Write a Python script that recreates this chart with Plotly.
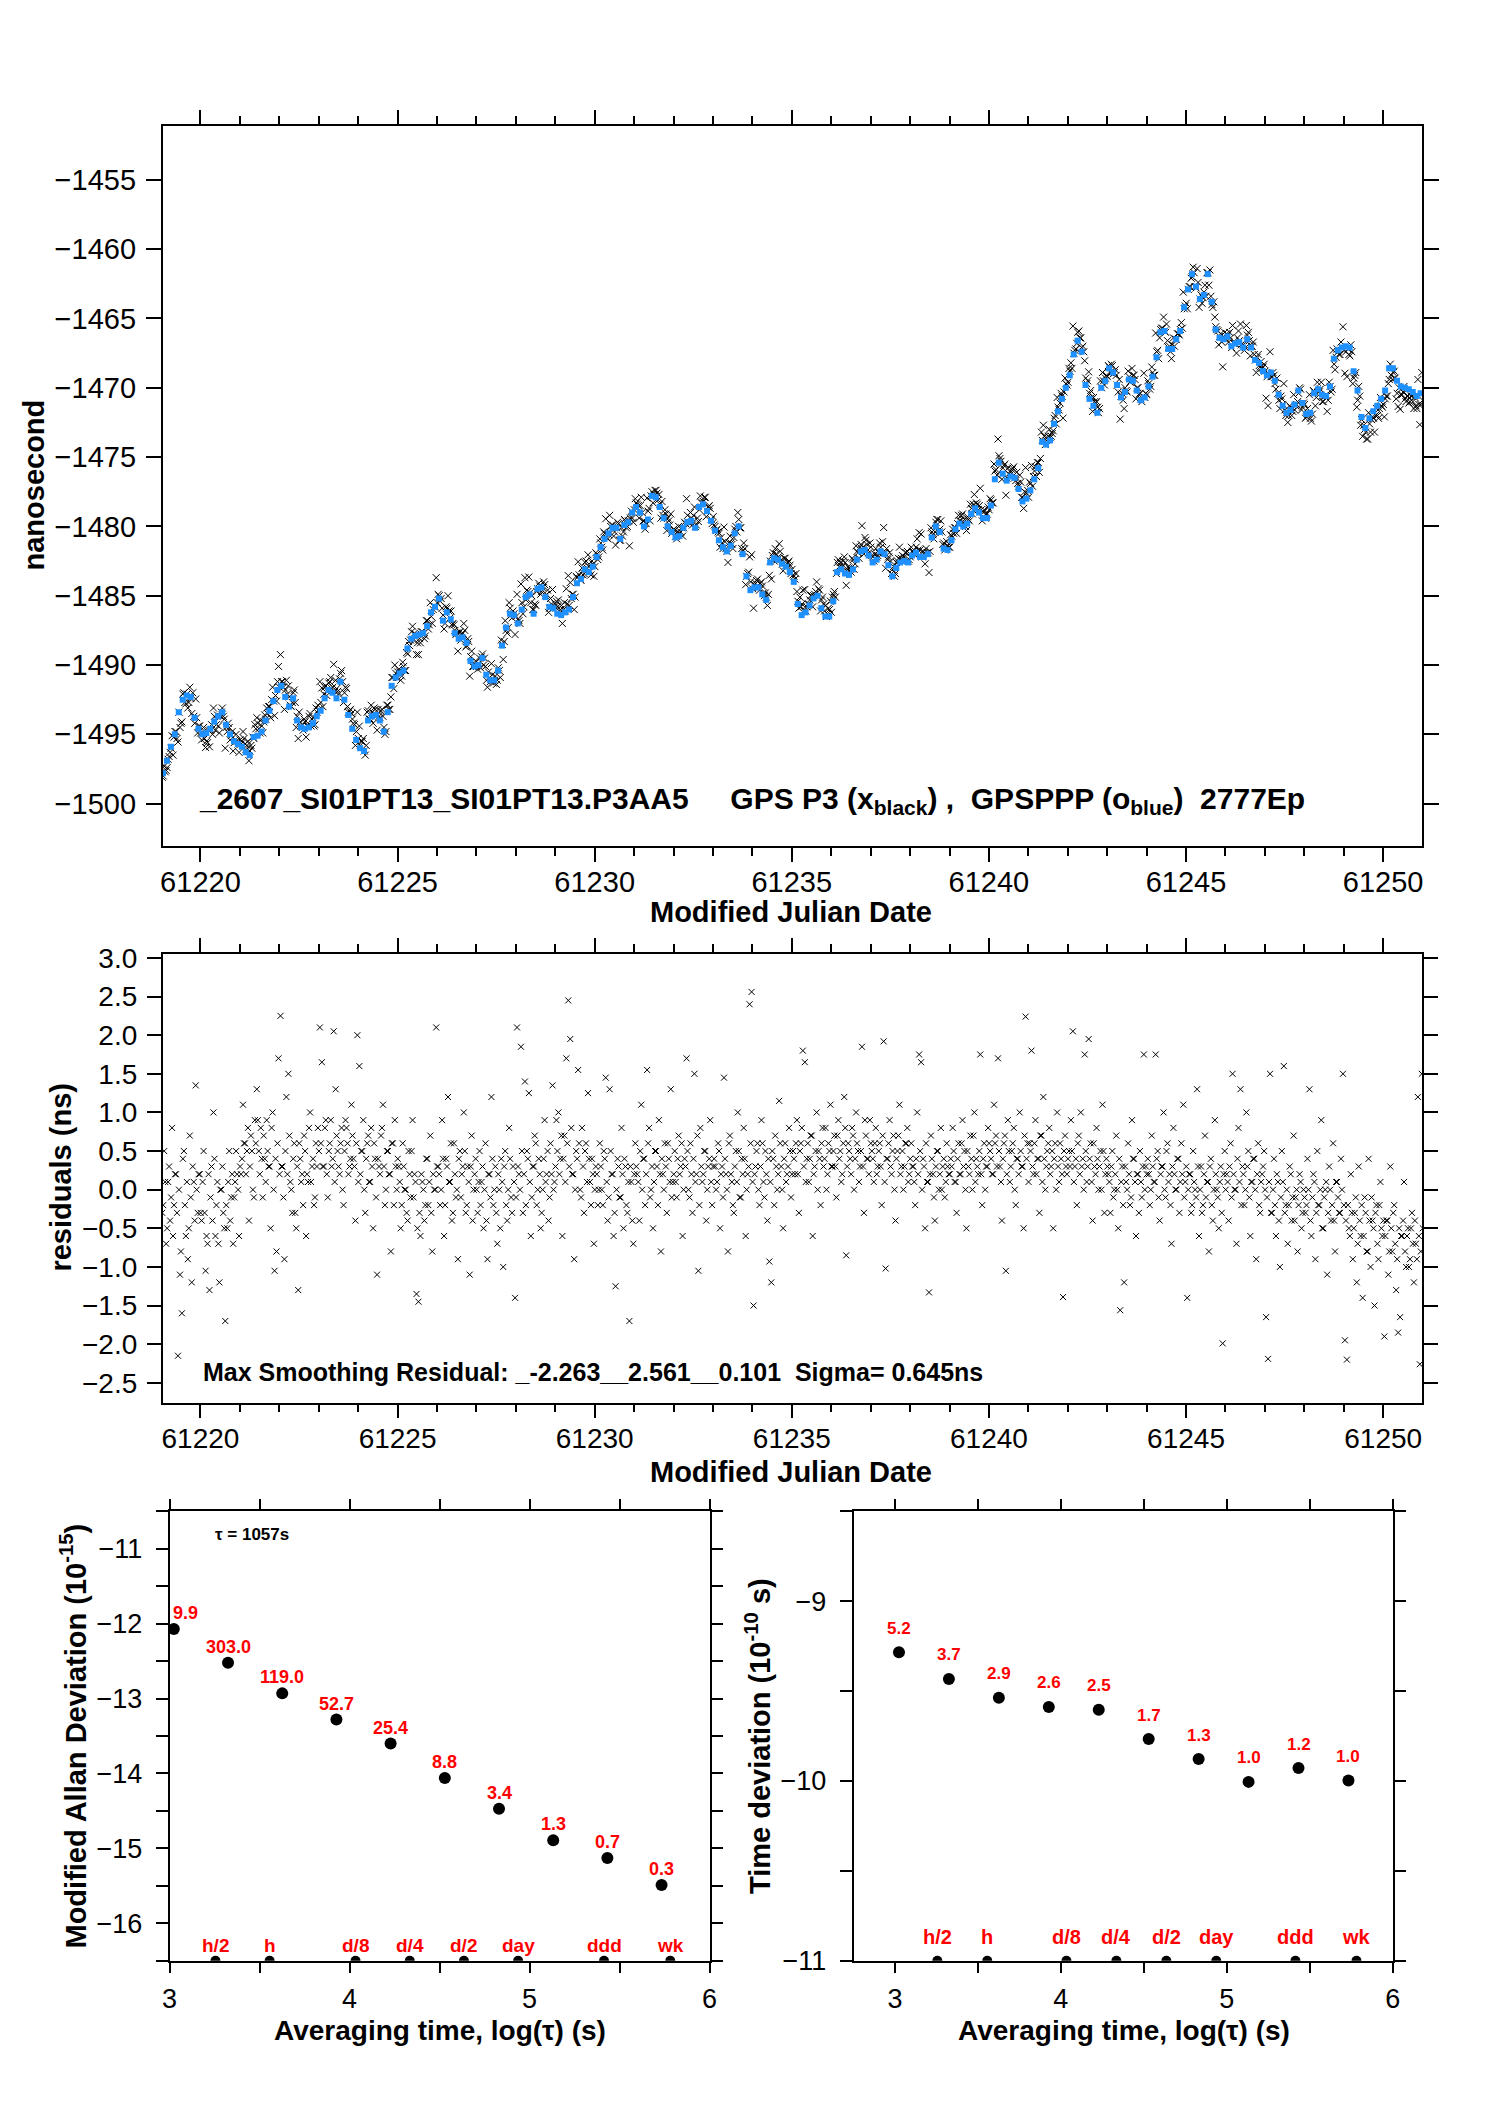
import numpy as np
import plotly.graph_objects as go

# GPSPPP track (ns), one value every 0.1 day starting at MJD 61219.05
ppp_start = 61219.05
ppp_step = 0.1
ppp_ns = [
    -1497.8, -1496.9, -1495.9, -1495.0, -1493.4, -1492.5, -1492.2, -1492.3, -1493.8, -1494.6,
    -1495.0, -1494.9, -1494.6, -1494.1, -1493.7, -1493.4, -1494.3, -1495.0, -1495.5, -1495.7,
    -1495.9, -1496.3, -1496.5, -1495.2, -1495.1, -1494.8, -1494.0, -1493.3, -1492.6, -1491.8,
    -1491.5, -1492.3, -1493.0, -1492.4, -1494.0, -1494.5, -1494.6, -1494.5, -1494.2, -1493.7,
    -1493.3, -1492.4, -1491.8, -1492.0, -1492.4, -1491.2, -1492.5, -1493.6, -1494.6, -1495.4,
    -1496.0, -1496.2, -1494.0, -1493.7, -1493.6, -1494.0, -1494.8, -1493.4, -1491.5, -1490.9,
    -1490.6, -1490.4, -1488.8, -1488.1, -1487.9, -1487.8, -1487.7, -1487.2, -1486.2, -1485.8,
    -1485.2, -1486.8, -1486.2, -1486.7, -1487.7, -1488.1, -1488.0, -1488.4, -1489.7, -1490.1,
    -1490.0, -1489.5, -1490.7, -1491.1, -1491.1, -1490.4, -1488.6, -1487.3, -1486.3, -1486.4,
    -1487.0, -1486.0, -1485.1, -1484.9, -1486.3, -1484.5, -1484.4, -1485.1, -1485.8, -1485.9,
    -1486.3, -1486.4, -1486.2, -1486.0, -1485.1, -1484.1, -1483.8, -1483.1, -1483.3, -1482.9,
    -1482.2, -1481.5, -1480.9, -1480.5, -1480.1, -1480.1, -1480.9, -1479.9, -1479.7, -1479.0,
    -1478.6, -1479.0, -1480.0, -1479.5, -1477.8, -1477.9, -1478.6, -1479.4, -1480.0, -1480.4,
    -1480.8, -1480.7, -1480.1, -1479.7, -1479.6, -1480.1, -1478.6, -1478.4, -1478.9, -1479.6,
    -1480.3, -1481.0, -1481.5, -1481.8, -1481.4, -1480.5, -1480.0, -1482.0, -1483.6, -1484.6,
    -1484.4, -1484.4, -1484.9, -1485.3, -1482.6, -1482.3, -1482.4, -1482.7, -1482.9, -1483.3,
    -1484.0, -1485.6, -1486.4, -1486.2, -1485.7, -1485.2, -1485.0, -1485.9, -1486.5, -1486.5,
    -1485.4, -1483.3, -1483.1, -1483.4, -1483.5, -1483.1, -1482.4, -1481.8, -1481.7, -1482.1,
    -1482.6, -1482.4, -1481.8, -1482.0, -1482.8, -1483.6, -1483.0, -1482.6, -1482.5, -1482.6,
    -1482.1, -1481.9, -1482.2, -1482.2, -1482.0, -1480.8, -1480.0, -1480.4, -1481.6, -1481.7,
    -1481.0, -1480.2, -1479.8, -1480.0, -1479.8, -1479.1, -1478.7, -1479.0, -1479.4, -1479.4,
    -1478.5, -1476.6, -1475.4, -1476.2, -1476.7, -1476.4, -1476.5, -1477.3, -1478.2, -1478.0,
    -1477.4, -1476.6, -1475.8, -1473.9, -1474.1, -1473.8, -1472.6, -1471.7, -1470.8, -1470.0,
    -1469.1, -1467.6, -1466.6, -1467.4, -1469.8, -1470.8, -1471.3, -1471.8, -1470.0, -1469.5,
    -1468.6, -1468.9, -1469.8, -1470.7, -1470.3, -1469.4, -1469.5, -1470.2, -1470.9, -1470.7,
    -1469.9, -1469.2, -1467.8, -1466.0, -1465.9, -1467.2, -1467.2, -1466.5, -1465.9, -1464.2,
    -1462.9, -1461.8, -1462.7, -1463.6, -1463.3, -1461.8, -1463.8, -1465.8, -1466.4, -1466.5,
    -1466.3, -1467.0, -1466.8, -1466.7, -1467.1, -1466.5, -1467.1, -1468.0, -1468.2, -1468.8,
    -1469.1, -1468.9, -1469.5, -1470.5, -1471.3, -1471.8, -1471.6, -1471.2, -1470.2, -1471.1,
    -1471.9, -1471.8, -1470.4, -1470.1, -1470.5, -1470.6, -1469.9, -1467.9, -1467.3, -1467.1,
    -1467.0, -1467.1, -1468.8, -1470.2, -1472.1, -1472.9, -1472.2, -1471.7, -1471.3, -1470.8,
    -1470.2, -1468.6, -1468.6, -1469.5, -1469.9, -1470.0, -1470.1, -1470.3, -1470.6, -1470.4,
]

# GPS P3 smoothing residuals (ns), one value every 0.05 day starting at MJD 61219.03
res_start = 61219.03
res_step = 0.05
resid_ns = [
    -0.3, 0.5, -0.7, 0.1, -0.4, 0.8, -0.2, 0.2, -2.15, -1.1, -1.6, 0.5, -0.6, -0.9, 0.7, -1.2, 0.1, 1.35, -0.3, 0.2,
    -0.4, 0.5, -1.05, -0.7, -1.3, 0.3, 1.0, -0.6, 0.1, -1.2, 0.0, -0.3, -1.7, -0.5, 0.5, -0.1, -0.7, 0.1, 0.2, -0.6,
    0.2, 1.1, 0.6, 0.5, -0.4, 0.7, 0.0, 0.9, 1.3, 0.5, 0.8, -0.1, 0.4, 0.9, 0.3, -0.5, 1.0, -1.05, -0.8, 1.7,
    2.25, 0.3, -0.9, 1.2, 1.5, 0.1, -0.3, 0.6, -0.5, -1.3, 0.4, 0.2, 0.7, -0.6, 0.1, 1.0, 0.3, -0.2, 0.6, 0.8,
    2.1, 1.65, 0.3, 0.9, -0.1, 0.6, 0.3, 2.05, 1.3, 0.5, 0.2, 0.8, -0.2, 0.9, 0.6, 0.3, 1.1, 0.4, -0.4, 2.0,
    1.6, 0.5, 0.9, -0.3, 0.6, 0.1, 0.8, -0.5, 0.4, -1.1, 0.3, 0.7, 1.1, -0.2, 0.5, 0.2, -0.8, 0.6, 0.9, 0.0,
    0.3, -0.5, 0.6, 0.0, -0.3, 0.5, -0.1, 0.9, 0.2, -1.35, -1.45, -0.6, 0.1, -0.4, 0.4, -0.2, 0.7, -0.8, 0.0, 2.1,
    0.3, -0.2, 0.9, -0.6, 0.4, 1.2, 0.1, -0.4, 0.6, -0.1, -0.9, 0.5, 0.2, 1.0, -0.3, 0.3, -1.1, 0.7, 0.0, 0.4,
    -0.3, 0.5, 0.1, -0.5, 0.6, -0.9, 0.2, 1.2, -0.2, 0.3, -0.7, 0.0, 0.4, -1.0, 0.5, -0.4, 0.8, -0.1, 0.3, -1.4,
    2.1, 0.2, 1.85, -0.3, 1.4, 0.5, 1.25, -0.6, 0.3, 0.7, -0.2, 0.4, -0.5, 0.0, 0.9, 0.2, -0.4, 0.6, 1.35, 0.1,
    0.9, 1.0, 0.4, -0.6, 0.7, 1.7, 2.45, 1.95, 0.2, -0.9, 0.5, 1.55, 0.0, 0.8, -0.3, 0.6, 1.25, 0.1, 0.4, -0.7,
    0.3, -0.2, 0.6, 0.0, 0.5, 1.45, -0.4, 1.3, 0.2, -0.6, -1.25, 0.4, -0.1, 0.8, -0.5, 0.3, -0.3, -1.7, 0.1, -0.7,
    0.6, 0.2, -0.4, 1.1, 0.4, -0.2, 1.55, 0.8, 0.0, -0.5, 0.5, 0.3, 0.9, -0.8, 0.2, 0.6, -0.3, 0.4, 1.3, 0.1,
    0.5, -0.1, 0.7, 0.3, -0.6, 0.4, 1.7, 0.0, 0.6, -0.3, 1.5, 0.2, -1.05, 0.8, 0.1, 0.5, -0.4, 0.3, 0.9, -0.2,
    0.4, 0.0, 0.6, -0.5, 0.3, 1.45, 0.2, -0.8, 0.7, 0.1, -0.3, 0.5, 1.0, -0.1, 0.4, 0.8, -0.6, 0.2, 2.4, 2.56,
    -1.5, 0.3, 0.6, -0.2, 0.9, 0.1, 0.5, -0.4, -0.93, -1.2, 0.4, 0.7, 0.0, 1.15, 0.3, -0.5, 0.6, 0.2, 0.8, -0.1,
    0.5, 0.2, 0.9, -0.3, 0.6, 1.8, 1.65, 0.4, 0.1, 0.7, -0.6, 0.3, 1.0, 0.5, -0.2, 0.8, 0.4, 0.0, 0.6, 1.1,
    0.3, 0.7, -0.1, 0.9, 0.5, 0.2, 1.2, -0.85, 0.6, 0.4, 0.8, 0.0, 1.0, 0.5, 0.3, 1.85, -0.3, 0.7, 0.4, 0.9,
    0.5, 0.1, 0.8, 0.3, 0.6, -0.2, 1.92, -1.02, 0.4, 0.9, 0.2, 0.7, -0.4, 0.5, 1.1, 0.3, 0.0, 0.6, 0.8, 0.2,
    0.6, 0.3, -0.2, 1.0, 1.75, 1.65, 0.4, -0.5, 0.1, -1.33, 0.7, 0.2, -0.4, 0.5, 0.0, 0.8, 0.3, -0.1, 0.6, 0.2,
    0.4, 0.8, 0.1, -0.3, 0.6, 0.2, 0.9, 0.5, -0.5, 0.3, 0.7, 0.0, 1.0, 0.4, 0.2, 1.75, -0.2, 0.6, 0.3, 0.8,
    0.5, 0.2, 1.1, 0.7, 1.7, 0.3, -0.4, 0.6, -1.05, 0.9, 0.1, 0.5, 0.8, -0.2, 0.4, 1.0, 0.3, -0.5, 2.24, 0.6,
    0.6, 1.8, 0.2, 0.9, 0.4, -0.3, 0.7, 1.2, 0.0, 0.5, 0.8, 0.3, -0.5, 0.6, 1.0, 0.1, 0.4, -1.39, 0.7, 0.2,
    0.5, 0.9, 2.05, 0.3, -0.2, 0.7, 1.0, 0.4, 1.75, 0.1, 1.95, 0.6, -0.4, 0.3, 0.8, 0.0, 0.5, 1.1, -0.3, 0.4,
    0.2, -0.3, 0.5, 0.0, 0.7, -0.5, -1.56, 0.3, -1.2, 0.1, 0.6, -0.2, 0.9, 0.4, -0.6, 0.2, 0.5, -0.1, 1.75, 0.3,
    0.4, -0.2, 0.7, 0.1, 1.75, 0.5, -0.4, 0.3, 1.0, -0.1, 0.6, 0.2, -0.7, 0.8, 0.0, 0.4, -0.3, 0.6, 1.1, 0.1,
    -1.4, 0.2, -0.3, 0.5, 0.0, 1.3, -0.6, 0.3, -0.2, 0.7, 0.1, -0.8, 0.4, -0.4, 0.9, 0.0, -0.5, 0.3, -1.99, 0.5,
    0.2, -0.4, 0.6, 1.5, 0.0, -0.7, 0.8, 1.3, 0.3, -0.2, 1.0, 0.5, -0.6, 0.1, 0.4, -0.9, 0.6, -0.3, 0.2, 0.5,
    -1.65, -2.19, 1.5, -0.3, 0.4, -0.6, 0.1, -1.0, 0.5, 1.6, -0.2, -0.7, 0.3, -0.4, 0.7, -0.1, -0.8, 0.2, -0.5, 0.0,
    -0.3, 0.4, 1.3, -0.6, 0.2, -0.9, 0.5, -0.2, 0.9, -0.5, 0.0, -1.1, 0.3, -0.4, 0.6, -0.8, 0.1, -0.3, 0.4, 1.5,
    -1.95, -2.2, -0.5, 0.2, -0.9, -0.3, -1.2, 0.3, -0.6, -1.4, -0.1, -0.8, 0.4, -1.0, -0.4, -1.5, -0.2, -0.9, 0.1, -0.6,
    -1.9, -0.4, -1.1, 0.3, -0.8, -0.2, -1.3, -1.85, -1.65, -0.6, 0.1, -1.0, -0.5, -0.9, -0.3, -1.2, -0.7, 1.2, -2.26, 1.5,
]

# second interleaved set of P3 residuals (ns), every 0.05 day starting at MJD 61219.055
res2_start = 61219.055
resid2_ns = [
    -0.2, 0.1, -0.5, 0.3, -0.1, -0.6, 0.2, -0.3, 0.0, -0.8, 0.4, -0.2, 0.1, -0.5, -0.1, 0.3, -0.4, 0.0, 0.2, -0.3,
    0.1, -0.3, -0.6, 0.2, -0.1, -0.4, 0.4, -0.2, -0.7, 0.0, 0.3, -0.5, -0.2, 0.1, -0.4, 0.2, -0.1, 0.5, 0.0, 0.3,
    0.4, 0.6, 0.2, 0.8, 0.3, 0.5, -0.1, 0.6, 0.9, 0.2, 0.4, 0.7, 0.1, 0.5, 0.3, 0.8, 0.0, 0.4, 0.6, 0.2,
    0.3, -0.1, 0.5, 0.2, 0.7, 0.0, 0.4, -0.3, 0.3, 0.6, 0.1, -0.2, 0.5, 0.2, 0.8, 0.1, 0.4, -0.1, 0.3, 0.5,
    0.6, 0.3, 0.8, 0.2, 0.5, 0.9, 0.4, 0.1, 0.7, 0.3, 0.6, 0.0, 0.5, 0.8, 0.2, 0.4, 0.7, 0.3, 0.6, 0.1,
    0.2, 0.5, 0.0, 0.4, 0.7, 0.1, 0.3, 0.6, -0.1, 0.4, 0.2, 0.8, 0.3, 0.0, 0.5, 0.2, 0.6, -0.2, 0.3, 0.4,
    0.1, -0.2, 0.3, 0.0, -0.4, 0.2, 0.5, -0.1, 0.1, -0.5, -0.3, 0.2, 0.0, -0.2, 0.4, 0.1, -0.3, 0.2, 0.0, 0.3,
    0.2, 0.0, 0.4, -0.2, 0.3, 0.1, 0.6, -0.3, 0.2, 0.0, 0.4, -0.1, 0.3, 0.5, -0.2, 0.1, 0.3, -0.4, 0.2, 0.0,
    0.1, -0.2, 0.3, 0.0, -0.4, 0.2, -0.1, 0.4, 0.0, -0.3, 0.2, -0.5, 0.1, 0.3, -0.2, 0.0, 0.4, -0.3, 0.1, -0.1,
    0.3, 0.0, 0.5, 0.2, -0.2, 0.4, 0.1, -0.1, 0.3, 0.6, 0.0, 0.2, -0.3, 0.4, 0.1, 0.5, -0.1, 0.2, 0.0, 0.3,
    0.5, 0.2, 0.7, 0.4, 0.1, 0.6, 0.3, 0.8, 0.2, 0.0, 0.4, 0.6, -0.1, 0.3, 0.5, 0.1, 0.4, -0.2, 0.2, 0.0,
    0.2, 0.0, 0.3, -0.2, 0.4, 0.1, -0.1, 0.5, 0.2, -0.3, 0.0, 0.3, -0.1, 0.2, 0.4, -0.2, 0.1, 0.3, -0.4, 0.2,
    0.3, 0.1, 0.5, 0.0, 0.4, 0.2, 0.6, -0.1, 0.3, 0.1, 0.5, -0.2, 0.2, 0.4, 0.0, 0.3, 0.6, 0.1, -0.1, 0.2,
    0.1, 0.4, 0.2, 0.6, 0.0, 0.3, 0.5, -0.1, 0.2, 0.4, 0.1, 0.7, -0.2, 0.3, 0.2, 0.5, 0.0, 0.4, 0.1, 0.3,
    0.3, 0.1, 0.5, 0.2, -0.1, 0.4, 0.0, 0.6, 0.2, -0.2, 0.3, 0.1, 0.5, -0.1, 0.2, 0.4, 0.0, 0.3, 0.6, 0.1,
    0.2, 0.5, 0.0, 0.3, 0.6, -0.1, 0.2, 0.4, 0.1, 0.5, -0.2, 0.3, 0.2, 0.6, 0.0, 0.4, 0.1, 0.3, 0.5, 0.2,
    0.4, 0.6, 0.2, 0.5, 0.8, 0.3, 0.1, 0.6, 0.4, 0.7, 0.2, 0.5, 0.0, 0.4, 0.6, 0.3, 0.8, 0.2, 0.5, 0.3,
    0.5, 0.3, 0.7, 0.4, 0.1, 0.6, 0.8, 0.3, 0.5, 0.2, 0.7, 0.4, 0.6, 0.1, 0.5, 0.3, 0.9, 0.4, 0.2, 0.6,
    0.4, 0.6, 0.2, 0.5, 0.3, 0.7, 0.1, 0.4, 0.6, 0.3, 0.5, 0.0, 0.4, 0.7, 0.2, 0.5, 0.3, 0.6, 0.1, 0.4,
    0.3, 0.1, 0.4, 0.2, 0.5, 0.0, 0.3, 0.6, 0.1, 0.2, 0.4, -0.1, 0.3, 0.5, 0.2, 0.0, 0.4, 0.1, 0.3, 0.2,
    0.3, 0.5, 0.1, 0.4, 0.2, 0.6, 0.3, 0.0, 0.5, 0.2, 0.4, 0.7, 0.1, 0.3, 0.5, 0.2, 0.4, 0.0, 0.3, 0.6,
    0.4, 0.2, 0.6, 0.3, 0.5, 0.1, 0.4, 0.7, 0.2, 0.5, 0.3, 0.6, 0.0, 0.4, 0.2, 0.5, 0.3, 0.7, 0.4, 0.1,
    0.5, 0.3, 0.6, 0.2, 0.4, 0.7, 0.1, 0.4, 0.3, 0.6, 0.2, 0.5, 0.4, 0.0, 0.3, 0.6, 0.2, 0.5, 0.3, 0.4,
    0.3, 0.5, 0.1, 0.4, 0.6, 0.2, 0.3, 0.0, 0.5, 0.3, 0.4, 0.1, 0.6, 0.2, 0.4, 0.3, 0.0, 0.5, 0.2, 0.3,
    0.1, 0.3, -0.1, 0.2, 0.0, 0.4, 0.1, -0.2, 0.3, 0.0, 0.2, -0.1, 0.4, 0.1, 0.2, -0.3, 0.1, 0.3, 0.0, 0.2,
    0.2, 0.0, 0.3, 0.1, 0.4, -0.1, 0.2, 0.3, 0.0, 0.5, 0.1, -0.2, 0.3, 0.2, 0.0, 0.4, 0.1, 0.2, -0.1, 0.3,
    0.0, 0.2, -0.2, 0.1, -0.1, 0.3, 0.0, -0.3, 0.2, -0.1, 0.1, 0.3, -0.2, 0.0, 0.2, -0.1, 0.1, -0.3, 0.2, 0.0,
    0.1, 0.3, -0.1, 0.2, 0.0, 0.4, 0.1, -0.2, 0.2, 0.0, 0.3, -0.1, 0.1, 0.4, 0.0, 0.2, -0.2, 0.1, 0.3, 0.0,
    -0.1, 0.1, -0.3, 0.0, -0.2, 0.2, -0.4, -0.1, 0.1, -0.3, 0.0, -0.2, 0.2, -0.1, -0.4, 0.0, -0.2, 0.1, -0.3, -0.1,
    -0.2, 0.0, -0.4, -0.1, 0.1, -0.3, -0.2, 0.0, -0.5, -0.1, 0.1, -0.3, 0.0, -0.2, -0.4, 0.1, -0.1, -0.3, 0.0, -0.2,
    -0.4, -0.2, -0.6, -0.3, -0.5, -0.1, -0.7, -0.4, -0.2, -0.6, -0.3, -0.8, -0.4, -0.1, -0.5, -0.3, -0.7, -0.2, -0.5, -0.4,
    -0.6, -0.4, -0.8, -0.5, -0.3, -0.7, -0.9, -0.5, -0.6, -0.4, -0.8, -0.6, -1.0, -0.5, -0.7, -0.4, -0.9, -0.6, -0.8, -0.5,
]

# stability analysis, tau = 1057 s * 2^k
tau_s = [1057, 2114, 4228, 8456, 16912, 33824, 67648, 135296, 270592, 541184]
mdev_log = [-12.07, -12.52, -12.93, -13.28, -13.60, -14.06, -14.47, -14.89, -15.13, -15.49]
mdev_lbl = ["9.9", "303.0", "119.0", "52.7", "25.4", "8.8", "3.4", "1.3", "0.7", "0.3"]
tdev_log = [-9.284, -9.432, -9.537, -9.588, -9.604, -9.767, -9.878, -10.005, -9.928, -9.997]
tdev_lbl = ["5.2", "3.7", "2.9", "2.6", "2.5", "1.7", "1.3", "1.0", "1.2", "1.0"]

# reference averaging times marked on the floor of the stability plots
mark_s = [1800, 3600, 10800, 21600, 43200, 86400, 259200, 604800]
mark_lbl = ["h/2", "h", "d/8", "d/4", "d/2", "day", "ddd", "wk"]

FONT = "Liberation Sans, Arial, Helvetica, sans-serif"
# the page body has an 8 px margin, the figure fills the rest of the window
OFF = 8
W, H = 1488 - OFF, 2105 - OFF


def px(x):
    return (x - OFF) / W


def py(y):
    return 1 - (y - OFF) / H


t_ppp = ppp_start + ppp_step * np.arange(len(ppp_ns))
t_res = np.concatenate([res_start + res_step * np.arange(len(resid_ns)),
                        res2_start + res_step * np.arange(len(resid2_ns))])
res_all = np.concatenate([resid_ns, resid2_ns])
# P3 points = smoothed track + residual
idx = np.concatenate([np.arange(len(resid_ns)), np.arange(len(resid2_ns))]) // 2
p3_ns = np.array(ppp_ns)[idx] + res_all
log_tau = np.log10(tau_s)
log_mark = np.log10(mark_s)

mdev_floor = -16.5
tdev_floor = -11.0

fig = go.Figure()

fig.add_trace(go.Scatter(x=t_res, y=p3_ns, mode="markers",
                         marker=dict(symbol="x-thin", size=7, color="black", line=dict(width=1, color="black")),
                         xaxis="x", yaxis="y", showlegend=False))
fig.add_trace(go.Scatter(x=t_ppp, y=ppp_ns, mode="markers",
                         marker=dict(symbol="square", size=6, color="#1E90FF", line=dict(width=0)),
                         xaxis="x", yaxis="y", showlegend=False))
fig.add_trace(go.Scatter(x=t_res, y=res_all, mode="markers",
                         marker=dict(symbol="x-thin", size=6, color="black", line=dict(width=1, color="black")),
                         xaxis="x2", yaxis="y2", showlegend=False))

dot = dict(symbol="circle", size=12, color="black")
fig.add_trace(go.Scatter(x=log_tau, y=mdev_log, mode="markers", marker=dot,
                         xaxis="x3", yaxis="y3", showlegend=False))
fig.add_trace(go.Scatter(x=log_mark, y=[mdev_floor] * len(mark_s), mode="markers", marker=dict(dot, size=10),
                         xaxis="x3", yaxis="y3", showlegend=False))
fig.add_trace(go.Scatter(x=log_tau, y=tdev_log, mode="markers", marker=dot,
                         xaxis="x4", yaxis="y4", showlegend=False))
fig.add_trace(go.Scatter(x=log_mark, y=[tdev_floor] * len(mark_s), mode="markers", marker=dict(dot, size=10),
                         xaxis="x4", yaxis="y4", showlegend=False))


def axis(size=28, ticklen=14, minor=None, standoff=8, **kw):
    d = dict(showline=True, linecolor="black", linewidth=1.5, mirror="ticks",
             ticks="outside", tickcolor="black", tickwidth=1.5, ticklen=ticklen,
             showgrid=False, zeroline=False, ticklabelstandoff=standoff,
             tickfont=dict(family=FONT, size=size, color="black"))
    if minor is not None:
        d["minor"] = dict(dtick=minor[0], ticklen=minor[1], ticks="outside",
                          tickcolor="black", tickwidth=1.5, showgrid=False)
    d.update(kw)
    return d


fig.update_layout(
    width=W, height=H,
    margin=dict(l=0, r=0, t=0, b=0, autoexpand=False),
    paper_bgcolor="white", plot_bgcolor="white",
    font=dict(family=FONT, color="black"),
    xaxis=axis(29, 14, (1, 8), -4, domain=[px(162.6), px(1422.2)], anchor="y",
               range=[61219.04, 61250.99], dtick=5, tickformat="d"),
    yaxis=axis(29, 15, None, 4, domain=[py(845.8), py(125.5)], anchor="x",
               range=[-1503.04, -1451.08], dtick=5),
    xaxis2=axis(28, 14, (1, 8), -4, domain=[px(162.6), px(1422.2)], anchor="y2",
                range=[61219.04, 61250.99], dtick=5, tickformat="d"),
    yaxis2=axis(28, 14, None, 4, domain=[py(1402.5), py(953.6)], anchor="x2",
                range=[-2.755, 3.056], dtick=0.5, tick0=0, tickformat=".1f"),
    xaxis3=axis(27, 11, (0.5, 11), 2, domain=[px(169.5), px(709.6)], anchor="y3",
                range=[3, 6], dtick=1),
    yaxis3=axis(27, 12, (0.5, 12), 8, domain=[py(1960.7), py(1511.4)], anchor="x3",
                range=[-16.5, -10.5], dtick=1),
    xaxis4=axis(27, 11, (0.5, 11), 2, domain=[px(853.5), px(1392.7)], anchor="y4",
                range=[2.75, 6], dtick=1, tick0=0),
    yaxis4=axis(27, 12, (0.5, 12), 8, domain=[py(1960.7), py(1511.4)], anchor="x4",
                range=[-11, -8.5], dtick=1, tick0=0),
)

ann = []


def title(text, x, y, size=29, angle=0, xanchor="center"):
    ann.append(dict(text="<b>" + text + "</b>", x=px(x), y=py(y), xref="paper", yref="paper",
                    showarrow=False, textangle=angle, xanchor=xanchor, yanchor="middle",
                    font=dict(family=FONT, size=size, color="black")))


sp = "\u00a0"
title("nanosecond", 33.5, 485, angle=-90)
title("Modified Julian Date", 791, 912)
title("_2607_SI01PT13_SI01PT13.P3AA5" + sp * 5 + "GPS P3 (x<sub>black</sub>)" + sp + "," + sp * 2
      + "GPSPPP (o<sub>blue</sub>)" + sp * 2 + "2777Ep", 197, 800, size=30, xanchor="left")
title("residuals (ns)", 60.6, 1177, angle=-90)
title("Modified Julian Date", 791, 1472)
title("Max Smoothing Residual: _-2.263__2.561__0.101" + sp * 2 + "Sigma= 0.645ns", 201, 1372,
      size=25, xanchor="left")
title("Modified Allan Deviation (10<sup>-15</sup>)", 73.5, 1736, angle=-90)
title("Averaging time, log(\u03c4) (s)", 440, 2030, size=28)
title("Time deviation (10<sup>-10</sup> s)", 758, 1736, angle=-90)
title("Averaging time, log(\u03c4) (s)", 1124, 2030, size=28)

ann.append(dict(text="<b>\u03c4 = 1057s</b>", x=3.24, y=-10.81, xref="x3", yref="y3", showarrow=False,
                xanchor="left", yanchor="middle", font=dict(family=FONT, size=17, color="black")))

red = dict(family=FONT, size=18, color="red")
for i, (xv, yv, lb) in enumerate(zip(log_tau, mdev_log, mdev_lbl)):
    a = dict(text="<b>" + lb + "</b>", x=xv, y=yv, xref="x3", yref="y3", showarrow=False,
             yshift=16, font=red)
    if i == 0:
        a.update(x=3.0, xanchor="left", xshift=1)
    ann.append(a)
for xv, lb in zip(log_mark, mark_lbl):
    ann.append(dict(text="<b>" + lb + "</b>", x=xv, y=mdev_floor, xref="x3", yref="y3",
                    showarrow=False, yshift=15, font=dict(red, size=19)))
for xv, yv, lb in zip(log_tau, tdev_log, tdev_lbl):
    ann.append(dict(text="<b>" + lb + "</b>", x=xv, y=yv, xref="x4", yref="y4", showarrow=False,
                    yshift=24, font=dict(red, size=17)))
for xv, lb in zip(log_mark, mark_lbl):
    ann.append(dict(text="<b>" + lb + "</b>", x=xv, y=tdev_floor, xref="x4", yref="y4",
                    showarrow=False, yshift=24, font=dict(red, size=20)))

fig.update_layout(annotations=ann)
fig.write_html("out.html")
